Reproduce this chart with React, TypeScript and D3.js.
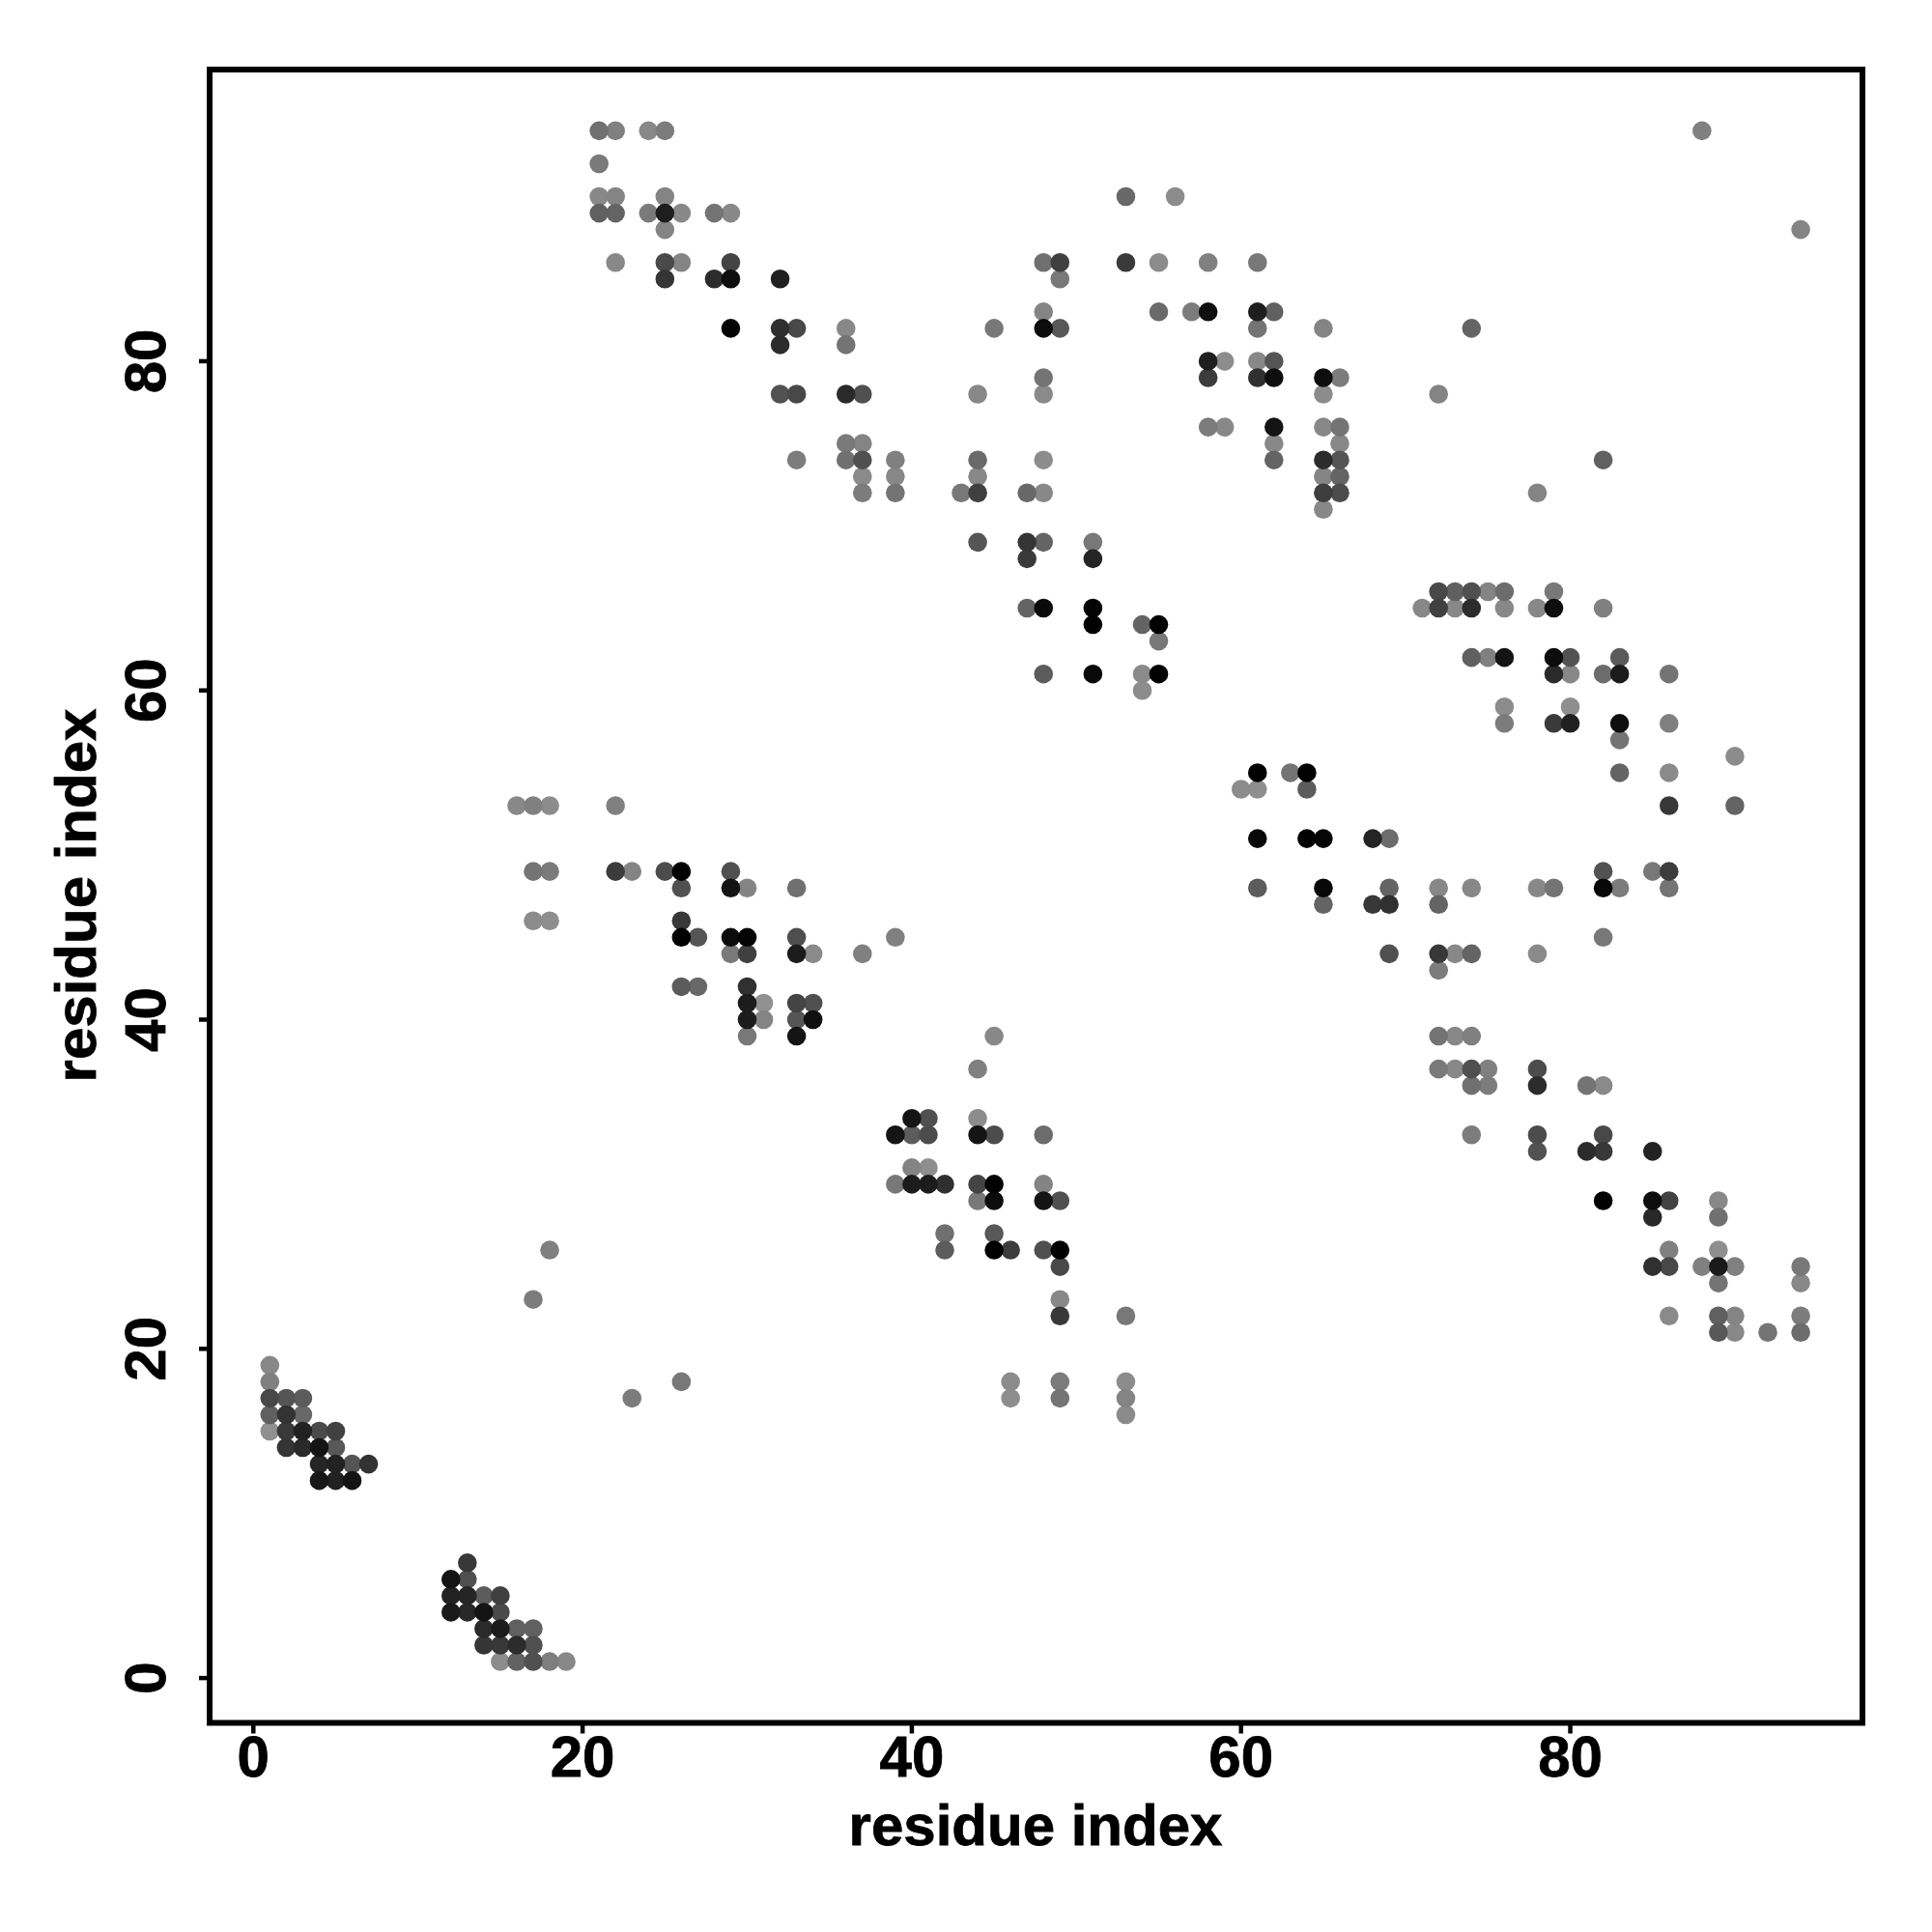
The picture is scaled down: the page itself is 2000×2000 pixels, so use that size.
import React from "react";
import * as d3 from "d3";

// [residue x, residue y, grey level of the dot]
const blockA: number[][] = [
  [1,19,0x88],[1,18,0x80],[1,17,0x48],[2,17,0x55],[3,17,0x5c],[1,16,0x60],[2,16,0x33],[3,16,0x68],
  [1,15,0x90],[2,15,0x3a],[3,15,0x22],[4,15,0x4a],[5,15,0x40],[2,14,0x35],[3,14,0x2a],[4,14,0x14],[5,14,0x58],
  [4,13,0x25],[5,13,0x22],[6,13,0x55],[7,13,0x33],[4,12,0x18],[5,12,0x22],[6,12,0x14],
];
const blockB: number[][] = [
  [13,7,0x38],[12,6,0x14],[13,6,0x50],[12,5,0x22],[13,5,0x25],[14,5,0x5c],[15,5,0x40],
  [12,4,0x1a],[13,4,0x28],[14,4,0x14],[15,4,0x4a],[14,3,0x2a],[15,3,0x1c],[16,3,0x60],[17,3,0x60],
  [14,2,0x35],[15,2,0x38],[16,2,0x2c],[17,2,0x50],[15,1,0x8c],[16,1,0x62],[17,1,0x50],[18,1,0x7e],[19,1,0x88],
];
const blockC: number[][] = [
  [17,23,0x7c],[18,26,0x80],[23,17,0x7c],[26,18,0x78],
  [16,53,0x88],[17,53,0x80],[18,53,0x8c],[22,53,0x80],
  [17,49,0x74],[18,49,0x7a],[22,49,0x3c],[23,49,0x84],[25,49,0x4c],[26,49,0x02],[29,49,0x50],
  [26,48,0x50],[29,48,0x14],[30,48,0x84],[33,48,0x70],
  [17,46,0x8c],[18,46,0x8e],[26,46,0x38],
  [26,45,0x02],[27,45,0x55],[29,45,0x0c],[30,45,0x04],[33,45,0x4e],[39,45,0x80],
  [29,44,0x7a],[30,44,0x40],[33,44,0x1c],[34,44,0x8a],[37,44,0x80],
  [26,42,0x5c],[27,42,0x68],[30,42,0x30],
  [30,41,0x1c],[31,41,0x90],[33,41,0x44],[34,41,0x50],
  [30,40,0x1c],[31,40,0x84],[33,40,0x55],[34,40,0x10],
  [30,39,0x78],[33,39,0x14],
];
const blockD: number[][] = [
  [45,39,0x88],[44,37,0x80],
  [40,34,0x14],[41,34,0x50],[44,34,0x8c],
  [39,33,0x14],[40,33,0x5c],[41,33,0x4c],[44,33,0x14],[45,33,0x4c],[48,33,0x6c],
  [40,31,0x84],[41,31,0x8e],
  [39,30,0x78],[40,30,0x1c],[41,30,0x1c],[42,30,0x30],[44,30,0x44],[45,30,0x02],[48,30,0x84],
  [44,29,0x78],[45,29,0x0c],[48,29,0x14],[49,29,0x50],
  [42,27,0x70],[45,27,0x58],
  [42,26,0x5c],[45,26,0x02],[46,26,0x3c],[48,26,0x50],[49,26,0x02],
  [49,25,0x48],[49,23,0x88],[49,22,0x38],[53,22,0x78],
  [46,18,0x8c],[49,18,0x7c],[53,18,0x8c],[46,17,0x8e],[49,17,0x74],[53,17,0x84],[53,16,0x8a],
];
const blockE: number[][] = [
  [21,94,0x70],[22,94,0x80],[24,94,0x88],[25,94,0x7c],[21,92,0x7a],
  [21,90,0x88],[22,90,0x84],[25,90,0x84],
  [21,89,0x60],[22,89,0x64],[24,89,0x7a],[25,89,0x1e],[26,89,0x88],[28,89,0x74],[29,89,0x88],
  [25,88,0x84],
  [22,86,0x88],[25,86,0x4a],[26,86,0x84],[29,86,0x44],
  [25,85,0x35],[28,85,0x2c],[29,85,0x0e],[32,85,0x20],
  [29,82,0x04],[32,82,0x30],[33,82,0x48],[36,82,0x88],
  [32,81,0x2c],[36,81,0x74],
  [32,78,0x52],[33,78,0x48],[36,78,0x2a],[37,78,0x50],
  [36,75,0x7a],[37,75,0x84],
  [33,74,0x7c],[36,74,0x70],[37,74,0x50],[39,74,0x80],
  [37,73,0x8a],[39,73,0x88],[37,72,0x7c],[39,72,0x74],
];
const blockF: number[][] = [
  [53,90,0x68],[56,90,0x8c],
  [48,86,0x70],[49,86,0x40],[53,86,0x3a],[55,86,0x8c],[58,86,0x80],[61,86,0x78],
  [49,85,0x78],
  [48,83,0x84],[55,83,0x6a],[57,83,0x7c],[58,83,0x10],[61,83,0x1e],[62,83,0x60],
  [45,82,0x78],[48,82,0x0c],[49,82,0x58],[61,82,0x74],[65,82,0x84],
  [58,80,0x20],[59,80,0x8c],[61,80,0x88],[62,80,0x55],
  [48,79,0x74],[58,79,0x3c],[61,79,0x30],[62,79,0x0e],[65,79,0x0e],[66,79,0x7c],
  [44,78,0x88],[48,78,0x8a],[65,78,0x8c],
  [58,76,0x7c],[59,76,0x88],[62,76,0x14],[65,76,0x88],[66,76,0x74],
  [62,75,0x88],[66,75,0x88],
  [44,74,0x6a],[48,74,0x8c],[62,74,0x64],[65,74,0x2c],[66,74,0x55],
  [44,73,0x88],[65,73,0x84],[66,73,0x64],
  [43,72,0x78],[44,72,0x40],[47,72,0x68],[48,72,0x88],[65,72,0x3e],[66,72,0x4c],
  [65,71,0x88],
  [44,69,0x55],[47,69,0x35],[48,69,0x64],[51,69,0x78],
  [47,68,0x3a],[51,68,0x25],
  [47,65,0x64],[48,65,0x0a],[51,65,0x04],
  [51,64,0x02],[54,64,0x64],[55,64,0x02],[55,63,0x78],
  [48,61,0x5c],[51,61,0x0a],[54,61,0x8a],[55,61,0x02],[54,60,0x8c],
];
const blockG: number[][] = [
  [88,94,0x80],[94,88,0x84],[74,82,0x64],[72,78,0x84],[82,74,0x60],[78,72,0x84],
  [72,66,0x48],[73,66,0x60],[74,66,0x50],[75,66,0x84],[76,66,0x6c],[79,66,0x78],
  [71,65,0x88],[72,65,0x40],[73,65,0x88],[74,65,0x2c],[76,65,0x88],[78,65,0x88],[79,65,0x0e],[82,65,0x80],
  [74,62,0x60],[75,62,0x80],[76,62,0x14],[79,62,0x0c],[80,62,0x52],[83,62,0x5a],
  [79,61,0x2a],[80,61,0x88],[82,61,0x6c],[83,61,0x1c],[86,61,0x74],
  [76,59,0x8c],[80,59,0x8e],
  [76,58,0x7c],[79,58,0x3a],[80,58,0x20],[83,58,0x0e],[86,58,0x80],
  [83,57,0x74],[90,56,0x8c],[83,55,0x64],[86,55,0x8a],[86,53,0x38],[90,53,0x64],
];
const blockH: number[][] = [
  [61,55,0x02],[63,55,0x74],[64,55,0x02],[60,54,0x8c],[61,54,0x8e],[64,54,0x5c],
  [61,51,0x08],[64,51,0x02],[65,51,0x06],[68,51,0x24],[69,51,0x6c],
  [82,49,0x52],[85,49,0x78],[86,49,0x3c],
  [61,48,0x5c],[65,48,0x08],[69,48,0x64],[72,48,0x88],[74,48,0x88],[78,48,0x88],[79,48,0x74],[82,48,0x08],[83,48,0x7c],[86,48,0x74],
  [65,47,0x64],[68,47,0x38],[69,47,0x30],[72,47,0x64],
  [82,45,0x78],
  [69,44,0x50],[72,44,0x38],[73,44,0x88],[74,44,0x64],[78,44,0x8a],[72,43,0x7c],
];
const blockI: number[][] = [
  [72,39,0x74],[73,39,0x88],[74,39,0x80],
  [72,37,0x7a],[73,37,0x88],[74,37,0x50],[75,37,0x80],[78,37,0x4c],
  [74,36,0x70],[75,36,0x7c],[78,36,0x2c],[81,36,0x74],[82,36,0x8a],
  [74,33,0x7c],[78,33,0x4c],[82,33,0x48],
  [78,32,0x52],[81,32,0x2c],[82,32,0x38],[85,32,0x22],
  [82,29,0x02],[85,29,0x0e],[86,29,0x42],[89,29,0x88],
  [85,28,0x28],[89,28,0x70],
  [86,26,0x80],[89,26,0x8e],
  [85,25,0x30],[86,25,0x48],[88,25,0x80],[89,25,0x1a],[90,25,0x80],[94,25,0x78],
  [89,24,0x74],[94,24,0x88],
  [86,22,0x8a],[89,22,0x60],[90,22,0x84],[94,22,0x7c],
  [89,21,0x58],[90,21,0x88],[92,21,0x74],[94,21,0x6c],
];
const tickValues = [0, 20, 40, 60, 80];
const xLabel = "residue index";
const yLabel = "residue index";

const font = "'Liberation Sans', Arial, sans-serif";

export default function App() {
  const left = 217, right = 1928, top = 72, bottom = 1783.5;
  const x = d3.scaleLinear().domain([-2.658, 97.75]).range([left, right]);
  const y = d3.scaleLinear().domain([-2.723, 97.72]).range([bottom, top]);
  const grey = d3.scaleLinear<string>().domain([0, 255]).range(["#000000", "#ffffff"]);
  const points = [blockA, blockB, blockC, blockD, blockE, blockF, blockG, blockH, blockI]
    .flat()
    .slice()
    .sort((a, b) => d3.descending(a[2], b[2]));
  return (
    <svg
      width={2000}
      height={2000}
      style={{ position: "absolute", left: 0, top: 0, background: "#fff" }}
      fontFamily={font}
      fontWeight="bold"
      stroke="none"
    >
      {points.map((p, i) => (
        <circle key={i} cx={x(p[0])} cy={y(p[1])} r={9.8} fill={grey(p[2])} />
      ))}
      <rect x={left} y={top} width={right - left} height={bottom - top} fill="none" stroke="#000" strokeWidth={6} />
      {tickValues.map((t) => (
        <g key={"x" + t}>
          <line x1={x(t)} x2={x(t)} y1={bottom} y2={bottom + 11} stroke="#000" strokeWidth={4.5} />
          <text x={x(t)} y={1838.5} textAnchor="middle" fontSize={60} stroke="#000" strokeWidth={0.8}>{t}</text>
        </g>
      ))}
      {tickValues.map((t) => (
        <g key={"y" + t}>
          <line x1={left - 11} x2={left} y1={y(t)} y2={y(t)} stroke="#000" strokeWidth={4.5} />
          <text transform={`translate(171,${y(t)}) rotate(-90)`} textAnchor="middle" fontSize={60} stroke="#000" strokeWidth={0.8}>{t}</text>
        </g>
      ))}
      <text x={1072} y={1910} textAnchor="middle" fontSize={60} stroke="#000" strokeWidth={0.8}>{xLabel}</text>
      <text transform="translate(99,927) rotate(-90)" textAnchor="middle" fontSize={60} stroke="#000" strokeWidth={0.8}>{yLabel}</text>
    </svg>
  );
}
